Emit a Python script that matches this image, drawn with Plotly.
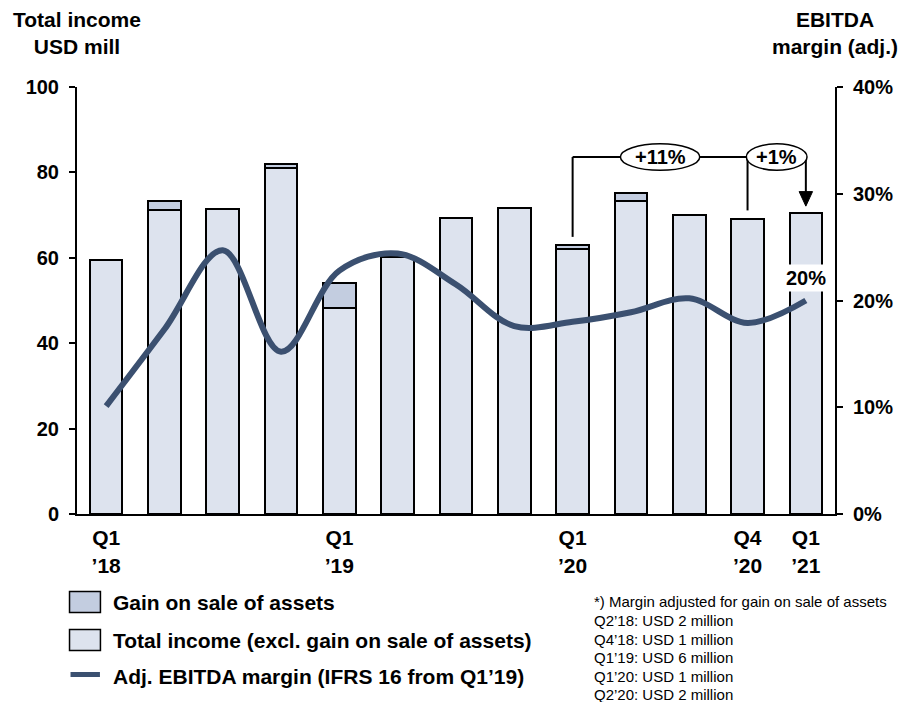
import plotly.graph_objects as go

# Quarterly data, Q1'18 .. Q1'21
quarters = ["Q1'18", "Q2'18", "Q3'18", "Q4'18", "Q1'19", "Q2'19", "Q3'19", "Q4'19",
            "Q1'20", "Q2'20", "Q3'20", "Q4'20", "Q1'21"]
income_excl_gain = [59.6, 71.2, 71.4, 81.0, 48.2, 60.1, 69.3, 71.7, 62.0, 73.2, 70.1, 69.2, 70.4]
gain_on_sale = [None, 2, None, 1, 6, None, None, None, 1, 2, None, None, None]
ebitda_margin = [10.1, 17.3, 24.7, 15.2, 22.8, 24.4, 21.5, 17.6, 18.0, 18.9, 20.2, 17.9, 20.0]

tick_idx = [0, 4, 8, 11, 12]
tick_text = ["Q1<br>\u201918", "Q1<br>\u201919", "Q1<br>\u201920", "Q4<br>\u201920", "Q1<br>\u201921"]
left_ticks = [0, 20, 40, 60, 80, 100]
right_ticks = [0, 10, 20, 30, 40]

growth_labels = ["+11%", "+1%"]
footnote_lines = [
    "*) Margin adjusted for gain on sale of assets",
    "Q2\u201918: USD 2 million",
    "Q4\u201918: USD 1 million",
    "Q1\u201919: USD 6 million",
    "Q1\u201920: USD 1 million",
    "Q2\u201920: USD 2 million",
]

FONT = "Liberation Sans, Arial, sans-serif"
C_BASE = "#dde3ee"
C_GAIN = "#c3cde0"
C_LINE = "#3b5070"

W, H = 905, 702
ML, MR, MT, MB = 77, 68, 87, 188
PW, PH = W - ML - MR, H - MT - MB


def px_x(px):
    return (px - ML) / PW


def px_y(py):
    return (H - MB - py) / PH


def bold(size):
    return dict(size=size, family=FONT, weight="bold", color="black")


x = list(range(len(quarters)))

fig = go.Figure()
fig.add_trace(go.Bar(
    x=x, y=income_excl_gain, width=0.56, name="Total income (excl. gain on sale of assets)",
    marker=dict(color=C_BASE, line=dict(color="black", width=2)), yaxis="y", showlegend=False,
    customdata=quarters,
))
fig.add_trace(go.Bar(
    x=x, y=gain_on_sale, width=0.56, name="Gain on sale of assets",
    marker=dict(color=C_GAIN, line=dict(color="black", width=2)), yaxis="y", showlegend=False,
))
fig.add_trace(go.Scatter(
    x=x, y=ebitda_margin, mode="lines", name="Adj. EBITDA margin",
    line=dict(color=C_LINE, width=6, shape="spline", smoothing=1.0), yaxis="y2", showlegend=False,
))

fig.update_layout(
    width=W, height=H, margin=dict(l=ML, r=MR, t=MT, b=MB),
    paper_bgcolor="white", plot_bgcolor="white",
    barmode="stack",
    font=dict(family=FONT, color="black"),
    xaxis=dict(range=[-0.5, len(quarters) - 0.5], tickvals=tick_idx, ticktext=tick_text,
               showgrid=False, zeroline=False, showline=True, linecolor="black", linewidth=2,
               ticks="", tickfont=bold(21), ticklabelstandoff=4),
    yaxis=dict(range=[0, 100], tickvals=left_ticks, ticktext=[str(v) for v in left_ticks],
               showgrid=False, zeroline=False, showline=True, linecolor="black", linewidth=2,
               ticks="outside", ticklen=6, tickwidth=2, tickcolor="black", tickfont=bold(20),
               ticklabelstandoff=6),
    yaxis2=dict(range=[0, 40], tickvals=right_ticks, ticktext=[f"{v}%" for v in right_ticks],
                overlaying="y", side="right", showgrid=False, zeroline=False, showline=True,
                linecolor="black", linewidth=2, ticks="outside", ticklen=6, tickwidth=2,
                tickcolor="black", tickfont=bold(20), ticklabelstandoff=6),
)

shapes = []
annotations = []

# Growth bracket from Q1'20 via Q4'20 to Q1'21
i_a, i_b, i_c = 8, 11, 12
lvl = 83.6
line_style = dict(color="black", width=2)
shapes.append(dict(type="line", xref="x", yref="y", x0=i_a, x1=i_c, y0=lvl, y1=lvl, line=line_style))
shapes.append(dict(type="line", xref="x", yref="y", x0=i_a, x1=i_a, y0=lvl,
                   y1=income_excl_gain[i_a] + gain_on_sale[i_a] + 1.9, line=line_style))
shapes.append(dict(type="line", xref="x", yref="y", x0=i_b, x1=i_b, y0=lvl,
                   y1=income_excl_gain[i_b] + 1.9, line=line_style))
tip = income_excl_gain[i_c] + 1.7
shapes.append(dict(type="line", xref="x", yref="y", x0=i_c, x1=i_c, y0=lvl, y1=tip + 3, line=line_style))
shapes.append(dict(type="path", xref="x", yref="y",
                   path=f"M {i_c - 0.115},{tip + 3.4} L {i_c + 0.115},{tip + 3.4} L {i_c},{tip} Z",
                   fillcolor="black", line=dict(color="black", width=1)))
for cx, hw, label in [(9.5, 0.68, growth_labels[0]), (11.5, 0.52, growth_labels[1])]:
    shapes.append(dict(type="circle", xref="x", yref="y", x0=cx - hw, x1=cx + hw,
                       y0=lvl - 3.1, y1=lvl + 3.1, fillcolor="white", line=dict(color="black", width=1.5)))
    annotations.append(dict(x=cx, y=lvl, xref="x", yref="y", text=label, showarrow=False,
                            font=bold(20)))

# Last margin value label
annotations.append(dict(x=x[-1], y=ebitda_margin[-1], xref="x", yref="y2",
                        text=f"{ebitda_margin[-1]:.0f}%", showarrow=False, yshift=23,
                        bgcolor="white", borderpad=2, font=bold(20)))

# Axis titles
annotations.append(dict(x=0, y=px_y(6), xref="paper", yref="paper", xanchor="center", yanchor="top",
                        text="Total income<br>USD mill", showarrow=False, font=bold(21)))
annotations.append(dict(x=1, y=px_y(6), xref="paper", yref="paper", xanchor="center", yanchor="top",
                        text="EBITDA<br>margin (adj.)", showarrow=False, font=bold(21)))

# Legend
legend_items = [("Gain on sale of assets", C_GAIN, "box"),
                ("Total income (excl. gain on sale of assets)", C_BASE, "box"),
                ("Adj. EBITDA margin (IFRS 16 from Q1\u201919)", C_LINE, "line")]
legend_rows = [602, 640, 676.5]
for (label, color, kind), cy in zip(legend_items, legend_rows):
    if kind == "box":
        shapes.append(dict(type="rect", xref="paper", yref="paper", x0=px_x(69.5), x1=px_x(100.5),
                           y0=px_y(cy - 10.5), y1=px_y(cy + 10.5), fillcolor=color,
                           line=dict(color="black", width=1.5)))
    else:
        shapes.append(dict(type="line", xref="paper", yref="paper", x0=px_x(70.5), x1=px_x(100),
                           y0=px_y(cy - 2), y1=px_y(cy - 2), line=dict(color=color, width=5)))
    annotations.append(dict(x=px_x(111), y=px_y(cy), xref="paper", yref="paper", xanchor="left",
                            yanchor="middle", text=label, showarrow=False, font=bold(21)))

# Footnote, one annotation per line
for k, line in enumerate(footnote_lines):
    annotations.append(dict(x=px_x(593), y=px_y(601.7 + 18.65 * k), xref="paper", yref="paper",
                            xanchor="left", yanchor="middle", text=line, showarrow=False,
                            font=dict(size=15, family=FONT, color="black")))

fig.update_layout(shapes=shapes, annotations=annotations)
fig.write_html("out.html")
